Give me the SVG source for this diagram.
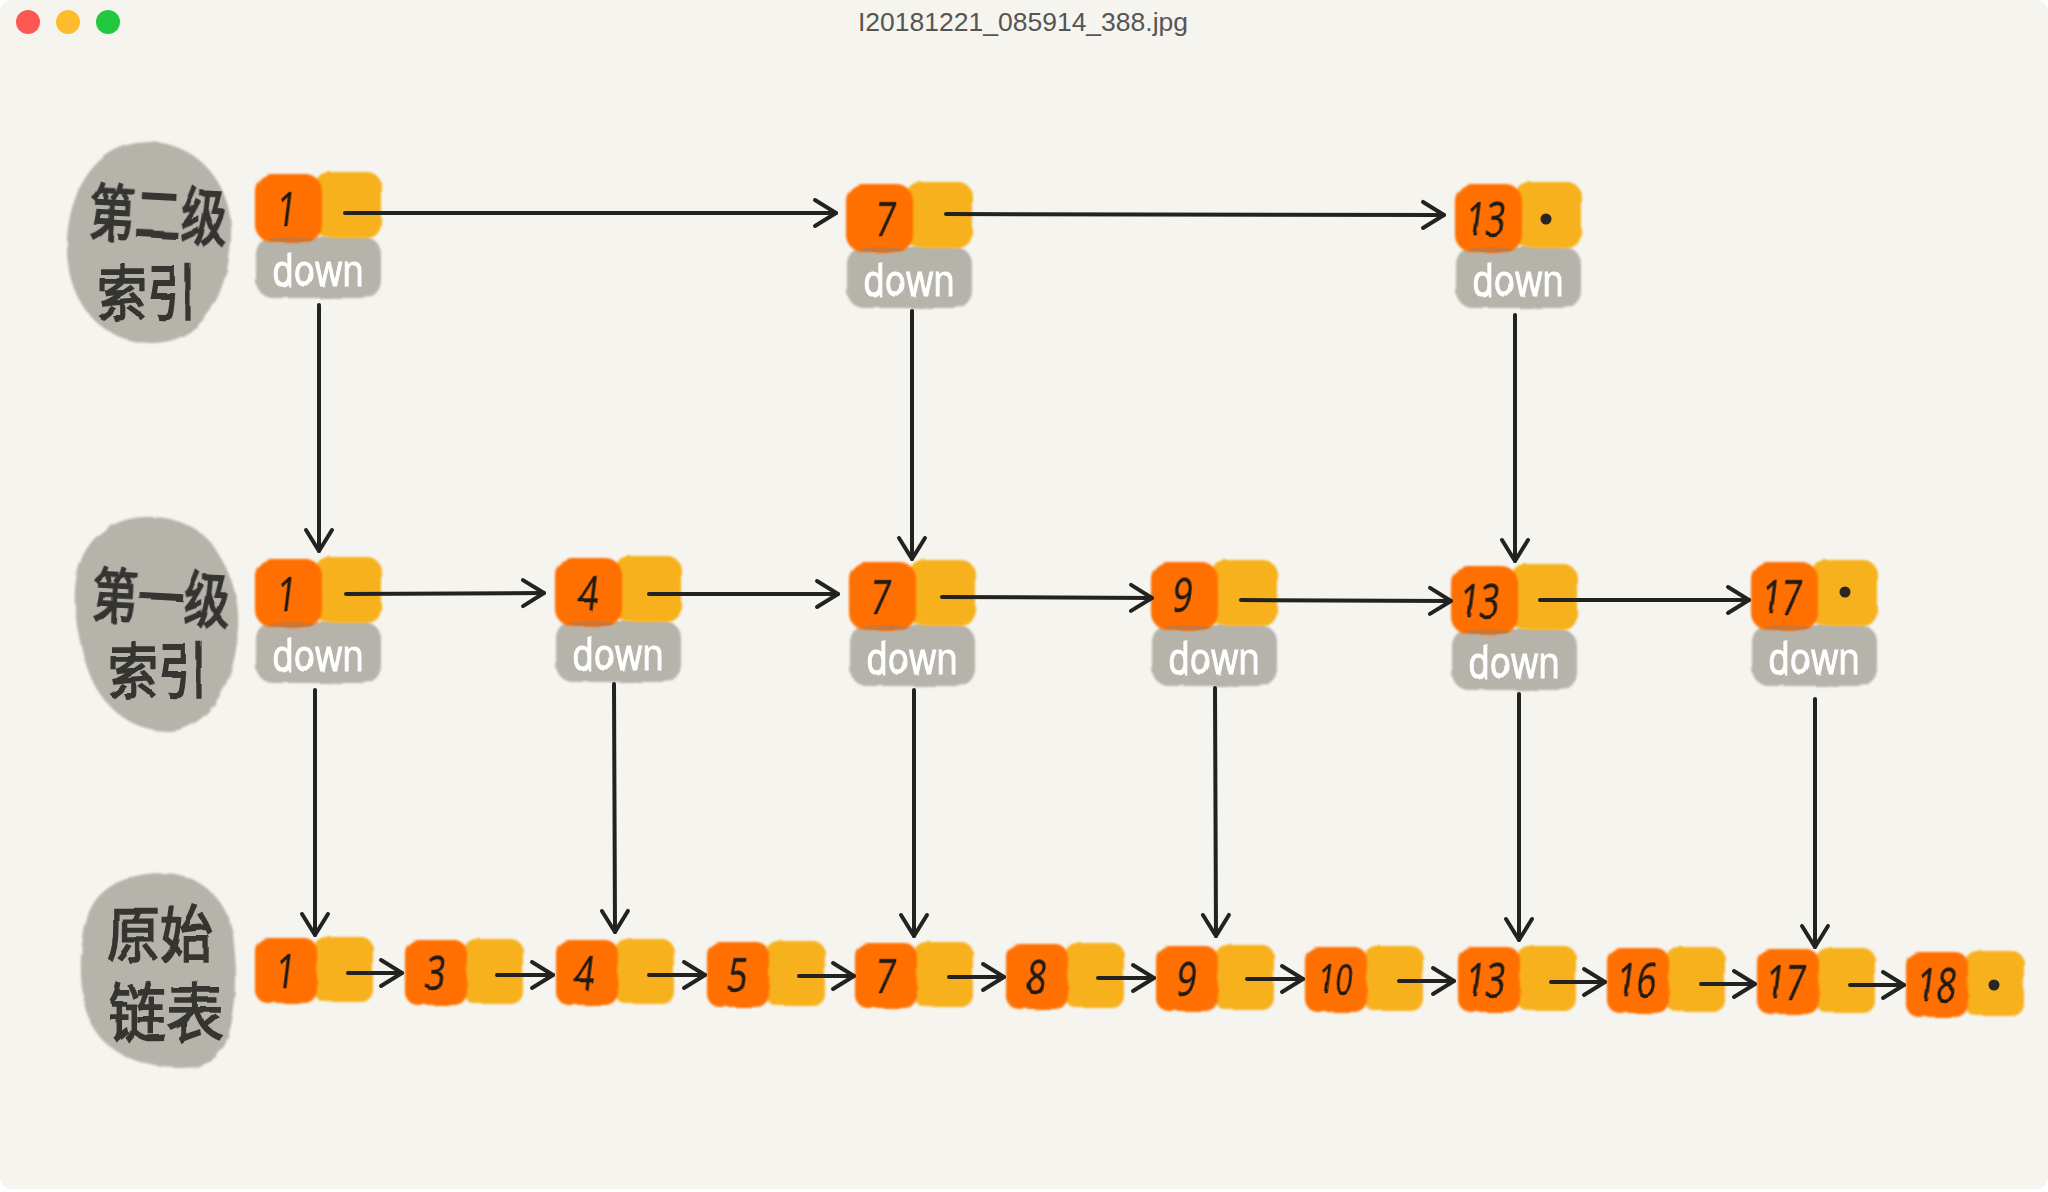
<svg xmlns="http://www.w3.org/2000/svg" width="2048" height="1192" viewBox="0 0 2048 1192">
<style>
.o{fill:#ff6f00}.y{fill:#f7b11f}.g{fill:#b6b3aa}
.c line{stroke:#222;stroke-width:4;stroke-linecap:round;fill:none;marker-end:url(#arr)}
.n{font-family:"Open Sans","Liberation Sans",sans-serif;font-size:48px;fill:#1c1a18;text-anchor:middle;stroke:#1c1a18;stroke-width:.5;filter:url(#wob)}
.d{font-family:"Open Sans","Liberation Sans",sans-serif;font-size:44px;fill:#fff;text-anchor:middle;stroke:#fff;stroke-width:1.2;filter:url(#wob)}
.l{font-family:"Noto Sans CJK SC","Noto Sans",sans-serif;font-size:46px;fill:#363431;text-anchor:middle;stroke:#363431;stroke-width:1.5;filter:url(#wob)}
.t{font-family:"Liberation Sans",sans-serif;font-size:26.5px;fill:#555;text-anchor:middle}
.s{filter:url(#rough)}
.dot{fill:#2a2624}
</style>
<defs>
<filter id="rough" x="-5%" y="-5%" width="110%" height="110%">
<feTurbulence type="fractalNoise" baseFrequency="0.05" numOctaves="2" seed="4"/>
<feDisplacementMap in="SourceGraphic" scale="3.5"/>
<feGaussianBlur stdDeviation="0.9"/>
</filter>
<filter id="wob" x="-15%" y="-15%" width="130%" height="130%">
<feTurbulence type="fractalNoise" baseFrequency="0.04" numOctaves="1" seed="9"/>
<feDisplacementMap in="SourceGraphic" scale="3"/>
<feGaussianBlur stdDeviation="0.5"/>
</filter>
<marker id="arr" viewBox="-25 -16 29 32" refX="0" refY="0" markerWidth="29" markerHeight="32" markerUnits="userSpaceOnUse" orient="auto">
<path d="M-21 -13L0 0L-21 13" fill="none" stroke="#222" stroke-width="4" stroke-linecap="round" stroke-linejoin="round"/>
</marker>
<g id="idx">
<rect class="g s" x="1" y="63" width="125" height="61" rx="17"/>
<rect class="y s" x="60" y="-2" width="66" height="66" rx="14"/>
<rect class="o s" x="0" y="0" width="67" height="68" rx="17"/>
<ellipse cx="36" cy="65.5" rx="22" ry="2.6" fill="#c9773a"/>
<text class="d" transform="translate(63 112) scale(.8 1)">down</text>
</g>
<g id="base">
<rect class="y s" x="59" y="-1" width="59" height="65" rx="12"/>
<rect class="o s" x="0" y="0" width="62" height="65" rx="13"/>
</g>
</defs>
<rect width="2048" height="1192" fill="#fff"/>
<rect width="2048" height="1189" rx="12" fill="#f5f4ef"/>
<g id="titlebar">
<circle cx="28" cy="22" r="12" fill="#fc5753"/>
<circle cx="68" cy="22" r="12" fill="#fdbc2e"/>
<circle cx="108" cy="22" r="12" fill="#22c83d"/>
<text class="t" x="1023" y="31">I20181221_085914_388.jpg</text>
</g>
<g id="label-l2">
<path class="g s" d="M150 142C190 142 228 175 231 225C233 270 215 343 152 343C100 343 66 300 67 247C67 200 90 142 150 142Z"/>
<text class="l" transform="translate(157 238) rotate(3) scale(1 1.35)">第二级</text>
<text class="l" transform="translate(147 315) scale(1 1.2)" style="font-size:50px">索引</text>
</g>
<g id="label-l1">
<path class="g s" d="M145 517C175 515 205 530 216 550C232 575 240 600 238 630C236 680 210 731 167 731C130 731 100 705 88 670C78 640 70 600 78 570C85 540 110 518 145 517Z"/>
<text class="l" transform="translate(160 620) rotate(3) scale(1 1.3)">第一级</text>
<text class="l" transform="translate(158 693) scale(1 1.2)" style="font-size:50px">索引</text>
</g>
<g id="label-base">
<path class="g s" d="M163 873C200 873 228 900 233 935C238 975 238 1010 225 1045C212 1065 200 1068 178 1068C140 1068 100 1050 90 1020C78 990 78 950 88 915C98 885 130 873 163 873Z"/>
<text class="l" transform="translate(160 957) scale(1 1.15)" style="font-size:53px">原始</text>
<text class="l" transform="translate(166 1036) scale(1 1.1)" style="font-size:58px">链表</text>
</g>
<g id="nodes">
<g id="l2-1" transform="translate(255 174)"><use href="#idx"/><text class="n" transform="translate(30 52) skewX(-7) scale(.72 1)">1</text></g>
<g id="l2-7" transform="translate(846 184)"><use href="#idx"/><text class="n" transform="translate(38 52) skewX(-7) scale(.72 1)">7</text></g>
<g id="l2-13" transform="translate(1455 184)"><use href="#idx"/><text class="n" transform="translate(29 52) skewX(-7) scale(.72 1)">13</text><circle class="dot" cx="91" cy="35" r="5.5"/></g>
<g id="l1-1" transform="translate(255 559)"><use href="#idx"/><text class="n" transform="translate(30 52) skewX(-7) scale(.72 1)">1</text></g>
<g id="l1-4" transform="translate(555 558)"><use href="#idx"/><text class="n" transform="translate(32 52) skewX(-7) scale(.72 1)">4</text></g>
<g id="l1-7" transform="translate(849 562)"><use href="#idx"/><text class="n" transform="translate(30 52) skewX(-7) scale(.72 1)">7</text></g>
<g id="l1-9" transform="translate(1151 562)"><use href="#idx"/><text class="n" transform="translate(30 50) skewX(-7) scale(.72 1)">9</text></g>
<g id="l1-13" transform="translate(1451 566)"><use href="#idx"/><text class="n" transform="translate(27 52) skewX(-7) scale(.72 1)">13</text></g>
<g id="l1-17" transform="translate(1751 562)"><use href="#idx"/><text class="n" transform="translate(29 52) skewX(-7) scale(.72 1)">17</text><circle class="dot" cx="94" cy="30" r="5.5"/></g>
<g id="b-1" transform="translate(255 938)"><use href="#base"/><text class="n" transform="translate(29 50) skewX(-7) scale(.72 1)">1</text></g>
<g id="b-3" transform="translate(405 940)"><use href="#base"/><text class="n" transform="translate(29 50) skewX(-7) scale(.72 1)">3</text></g>
<g id="b-4" transform="translate(556 940)"><use href="#base"/><text class="n" transform="translate(27 50) skewX(-7) scale(.72 1)">4</text></g>
<g id="b-5" transform="translate(707 942)"><use href="#base"/><text class="n" transform="translate(29 50) skewX(-7) scale(.72 1)">5</text></g>
<g id="b-7" transform="translate(855 943)"><use href="#base"/><text class="n" transform="translate(29 50) skewX(-7) scale(.72 1)">7</text></g>
<g id="b-8" transform="translate(1006 944)"><use href="#base"/><text class="n" transform="translate(29 50) skewX(-7) scale(.72 1)">8</text></g>
<g id="b-9" transform="translate(1156 946)"><use href="#base"/><text class="n" transform="translate(29 50) skewX(-7) scale(.72 1)">9</text></g>
<g id="b-10" transform="translate(1305 947)"><use href="#base"/><text class="n" transform="translate(29 47) skewX(-7) scale(.72 1)" style="font-size:42px">10</text></g>
<g id="b-13" transform="translate(1458 947)"><use href="#base"/><text class="n" transform="translate(26 50) skewX(-7) scale(.72 1)">13</text></g>
<g id="b-16" transform="translate(1607 948)"><use href="#base"/><text class="n" transform="translate(28 49) skewX(-7) scale(.72 1)">16</text></g>
<g id="b-17" transform="translate(1757 949)"><use href="#base"/><text class="n" transform="translate(27 50) skewX(-7) scale(.72 1)">17</text></g>
<g id="b-18" transform="translate(1906 952)"><use href="#base"/><text class="n" transform="translate(29 50) skewX(-7) scale(.72 1)">18</text><circle class="dot" cx="88" cy="33" r="5.5"/></g>
</g>
<g id="connectors" class="c">
<line x1="345" y1="213" x2="836" y2="213"/>
<line x1="946" y1="214" x2="1444" y2="215"/>
<line x1="319" y1="305" x2="319" y2="551"/>
<line x1="912" y1="311" x2="912" y2="559"/>
<line x1="1515" y1="315" x2="1515" y2="561"/>
<line x1="346" y1="594" x2="544" y2="593"/>
<line x1="649" y1="594" x2="838" y2="594"/>
<line x1="942" y1="597" x2="1152" y2="598"/>
<line x1="1241" y1="600" x2="1451" y2="601"/>
<line x1="1540" y1="600" x2="1749" y2="600"/>
<line x1="315" y1="690" x2="315" y2="935"/>
<line x1="614" y1="684" x2="615" y2="932"/>
<line x1="914" y1="690" x2="914" y2="936"/>
<line x1="1215" y1="688" x2="1216" y2="936"/>
<line x1="1519" y1="694" x2="1519" y2="940"/>
<line x1="1815" y1="699" x2="1815" y2="947"/>
<line x1="348" y1="973" x2="402" y2="973"/>
<line x1="497" y1="975" x2="553" y2="975"/>
<line x1="649" y1="975" x2="705" y2="975"/>
<line x1="799" y1="976" x2="854" y2="976"/>
<line x1="949" y1="977" x2="1004" y2="977"/>
<line x1="1098" y1="978" x2="1154" y2="978"/>
<line x1="1247" y1="979" x2="1303" y2="979"/>
<line x1="1399" y1="981" x2="1454" y2="981"/>
<line x1="1551" y1="982" x2="1605" y2="982"/>
<line x1="1701" y1="984" x2="1755" y2="984"/>
<line x1="1850" y1="985" x2="1904" y2="985"/>
</g>
</svg>
